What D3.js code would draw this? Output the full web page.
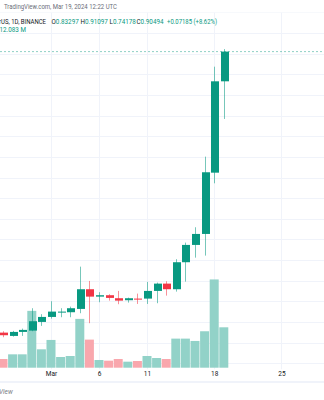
<!DOCTYPE html>
<html><head><meta charset="utf-8">
<script src="https://cdn.jsdelivr.net/npm/d3@7"></script>
<style>
html,body{margin:0;padding:0;background:#fff;}
svg{display:block;font-family:Roboto,"Open Sans",sans-serif;}
</style></head>
<body>
<svg id="chart" width="324" height="400"></svg>
<script>
// Daily candles (Feb 25 – Mar 19, 2024)
const dates = ["2024-02-25","2024-02-26","2024-02-27","2024-02-28","2024-02-29","2024-03-01","2024-03-02","2024-03-03","2024-03-04","2024-03-05","2024-03-06","2024-03-07","2024-03-08","2024-03-09","2024-03-10","2024-03-11","2024-03-12","2024-03-13","2024-03-14","2024-03-15","2024-03-16","2024-03-17","2024-03-18","2024-03-19"];
const opens  = [0.2243,0.2163,0.2260,0.2292,0.2502,0.2623,0.2728,0.2737,0.2817,0.3294,0.3115,0.3149,0.3076,0.3028,0.3067,0.3067,0.3253,0.3430,0.3294,0.3948,0.4367,0.4633,0.6117,0.83297];
const highs  = [0.2277,0.2285,0.2340,0.2834,0.2689,0.3004,0.2834,0.2873,0.3841,0.3495,0.3222,0.3173,0.3253,0.3091,0.3188,0.3471,0.3454,0.3488,0.4021,0.4423,0.4795,0.6505,0.8684,0.91097];
const lows   = [0.2132,0.2146,0.2163,0.2277,0.2406,0.2582,0.2616,0.2616,0.2713,0.2471,0.2979,0.3018,0.2931,0.2970,0.2938,0.2938,0.2955,0.3139,0.3236,0.3478,0.4059,0.4108,0.5860,0.74178];
const closes = [0.2180,0.2260,0.2309,0.2519,0.2623,0.2752,0.2752,0.2834,0.3294,0.3115,0.3149,0.3084,0.3018,0.3076,0.3052,0.3253,0.3430,0.3294,0.3948,0.4367,0.4633,0.6127,0.83297,0.90494];
const volumes = [2.6,4.0,4.0,17.0,5.5,8.3,3.2,3.5,14.6,8.4,2.3,2.1,2.6,1.8,2.0,3.5,2.9,2.6,8.7,8.7,8.0,10.9,26.4,12.083]; // millions

const tickDates  = ["2024-03-01","2024-03-06","2024-03-11","2024-03-18","2024-03-25"];
const tickLabels = ["Mar","6","11","18","25"];

const headerTitle = "TradingView.com, Mar 19, 2024 12:22 UTC";
const symbolText  = "rUS, 1D, BINANCE";
const ohlcLabels  = ["O","H","L","C"];
const ohlcValues  = ["0.83297","0.91097","0.74178","0.90494"];
const changeText  = "+0.07185 (+8.62%)";
const volumeText  = "12.083 M";

const parse = d3.utcParse("%Y-%m-%d");
const data = dates.map((d,i)=>({date:parse(d),o:opens[i],h:highs[i],l:lows[i],c:closes[i],v:volumes[i]}));

const svg = d3.select("#chart");
const W = 324;
const paneTop = 12.5, paneBottom = 369.5;

const x = d3.scaleUtc().domain([parse("2024-02-25"), parse("2024-03-25")]).range([3, 281.4]);
const y = d3.scaleLinear().domain([0.15, 1.0]).range([363.3, 12.35]);
const yv = d3.scaleLinear().domain([0, 30]).range([367.7, 267.4]);

const GREEN = "#089981", RED = "#F23645";
const GRID = "#f0f3fa";

svg.append("defs").append("clipPath").attr("id","pane")
  .append("rect").attr("x",0).attr("y",paneTop).attr("width",W).attr("height",paneBottom-paneTop);

const pane = svg.append("g").attr("clip-path","url(#pane)");

// horizontal grid
const gridPrices = d3.range(0.15, 1.0001, 0.05);
pane.append("g").selectAll("line").data(gridPrices).join("line")
  .attr("x1",0).attr("x2",W)
  .attr("y1",d=>Math.round(y(d))+0.5).attr("y2",d=>Math.round(y(d))+0.5)
  .attr("stroke",GRID).attr("stroke-width",1);

// vertical grid
pane.append("g").selectAll("line").data(tickDates).join("line")
  .attr("x1",d=>Math.round(x(parse(d)))+0.5).attr("x2",d=>Math.round(x(parse(d)))+0.5)
  .attr("y1",paneTop).attr("y2",paneBottom)
  .attr("stroke",GRID).attr("stroke-width",1);

// volume bars
pane.append("g").selectAll("rect").data(data).join("rect")
  .attr("x",d=>x(d.date)-4.5)
  .attr("width",9)
  .attr("y",d=>yv(d.v))
  .attr("height",d=>yv(0)-yv(d.v))
  .attr("fill",d=>d.c>=d.o ? "#92d2c8" : "#f9a7ad");

// price line (last close)
pane.append("line")
  .attr("x1",0).attr("x2",W)
  .attr("y1",y(closes[closes.length-1])).attr("y2",y(closes[closes.length-1]))
  .attr("stroke",GREEN).attr("stroke-opacity",0.45)
  .attr("stroke-width",1).attr("stroke-dasharray","2,2");

// wicks
pane.append("g").selectAll("line").data(data).join("line")
  .attr("x1",d=>Math.round(x(d.date))+0.5).attr("x2",d=>Math.round(x(d.date))+0.5)
  .attr("y1",d=>y(d.h)).attr("y2",d=>y(d.l))
  .attr("stroke",d=>d.c>=d.o?GREEN:RED).attr("stroke-opacity",0.55).attr("stroke-width",1);

// bodies
pane.append("g").selectAll("rect").data(data).join("rect")
  .attr("x",d=>Math.round(x(d.date))-3)
  .attr("width",8)
  .attr("y",d=>y(Math.max(d.o,d.c)))
  .attr("height",d=>Math.max(1,Math.abs(y(d.o)-y(d.c))))
  .attr("fill",d=>d.c>=d.o?GREEN:RED);

// time axis labels
const xAxis = d3.axisBottom(x)
  .tickValues(tickDates.map(parse))
  .tickFormat((d,i)=>tickLabels[i])
  .tickSize(0).tickPadding(0);
const ax = svg.append("g").attr("transform",`translate(0,${371.5})`).call(xAxis);
ax.select(".domain").remove();
ax.selectAll("text").attr("font-size",6.5).attr("fill","#131722").attr("font-family","Roboto,sans-serif");

// bottom separator
svg.append("rect").attr("x",0).attr("y",381).attr("width",W).attr("height",2).attr("fill","#f0f3fa");
svg.append("text").attr("x",-1).attr("y",393.5).attr("font-size",6.5).attr("font-style","italic").attr("fill","#787b86").text("View");

// header
svg.append("text").attr("x",4).attr("y",8.5).attr("font-size",6.3).attr("fill","#6a6d78")
  .attr("textLength",113).attr("lengthAdjust","spacingAndGlyphs").text(headerTitle);
const hdr = svg.append("g").attr("font-size",6.3);
hdr.append("text").attr("x",-1).attr("y",23.5).attr("fill","#131722")
  .attr("textLength",47).attr("lengthAdjust","spacingAndGlyphs").text(symbolText);
const ohlcX = [51.5, 80.5, 109.5, 136.5];
ohlcLabels.forEach((l,i)=>{
  const t = hdr.append("text").attr("x",ohlcX[i]).attr("y",23.5);
  t.append("tspan").attr("fill","#131722").text(l);
  t.append("tspan").attr("fill",GREEN).text(ohlcValues[i]);
});
hdr.append("text").attr("x",167).attr("y",23.5).attr("fill",GREEN)
  .attr("textLength",50).attr("lengthAdjust","spacingAndGlyphs").text(changeText);
svg.append("text").attr("x",-0.5).attr("y",31.5).attr("font-size",6.3).attr("fill",GREEN).text(volumeText);
</script>
</body></html>
